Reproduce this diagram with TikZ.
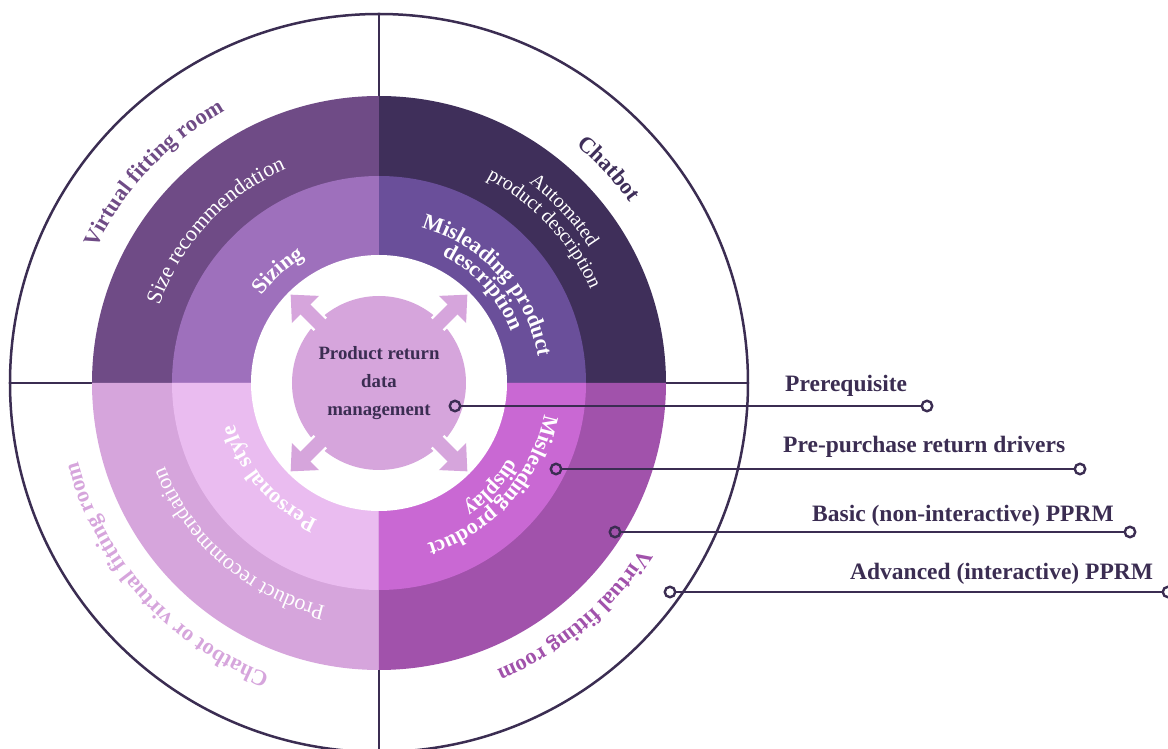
\documentclass[tikz,border=0pt]{standalone}
\usepackage{fontspec}
\setmainfont{Liberation Serif}
\usepackage{tikz}
\usetikzlibrary{arrows.meta,decorations.text,positioning}

\definecolor{prnavy}{RGB}{59,45,82}
\definecolor{prink}{RGB}{63,47,90}
\definecolor{prviolet}{RGB}{106,79,154}
\definecolor{prgrape}{RGB}{111,75,134}
\definecolor{prlav}{RGB}{158,112,188}
\definecolor{prmauve}{RGB}{214,165,220}
\definecolor{prpink}{RGB}{234,188,240}
\definecolor{prplum}{RGB}{161,82,171}
\definecolor{prorchid}{RGB}{201,104,211}

\newcommand\rimfont{\fontsize{22.5}{24}\selectfont\bfseries}
\newcommand\ringbf{\fontsize{22}{24}\selectfont\bfseries}
\newcommand\ringrm{\fontsize{22}{24}\selectfont}
\newcommand\smallrm{\fontsize{20}{22}\selectfont}

\tikzstyle{rim} = [draw=prnavy, line width=2.5pt]
\tikzstyle{cross} = [draw=prnavy, line width=2.2pt]
\tikzstyle{conn} = [draw=prnavy, line width=2.6pt]
\tikzstyle{dot} = [circle, draw=prnavy, line width=2.4pt, inner sep=0pt, minimum size=10.5pt]
\tikzstyle{lbl} = [anchor=base west, inner sep=0pt, text=prnavy, font=\fontsize{23.5}{26}\selectfont\bfseries]
\tikzstyle{spoke} = [draw=prmauve, line width=14pt, -{Triangle[width=37pt,length=21pt]}]
\tikzset{curved/.style={decorate, decoration={text along path, text align=center, text={#1}}}}

\begin{document}
\begin{tikzpicture}[x=1pt, y=1pt]
\useasboundingbox (-379,-366) rectangle (789,383);

% frame circle and the two axes
\draw[rim] (0,0) circle[radius=369pt];
\draw[cross] (-369,0) -- (369,0);
\draw[cross] (0,369) -- (0,-369);

% quadrants: outer ring, middle ring
\foreach \a/\outc/\midc in {0/prink/prviolet, 90/prgrape/prlav, 180/prmauve/prpink, 270/prplum/prorchid} {
  \fill[\outc] (0,0) -- (\a:287pt) arc[start angle=\a, end angle=\a+90, radius=287pt] -- cycle;
  \fill[\midc] (0,0) -- (\a:207pt) arc[start angle=\a, end angle=\a+90, radius=207pt] -- cycle;
}
\fill[white] (0,0) circle[radius=128pt];

% hub with its four arrows
\node[circle, fill=prmauve, minimum size=174pt, inner sep=0pt, align=center, text=prnavy,
  font=\fontsize{18.8}{28}\selectfont\bfseries] (hub) at (0,0) {Product return\\data\\management};
\foreach \a in {45,135,225,315} {
  \draw[white, line width=19pt] (\a:83pt) -- (\a:100pt);
  \draw[spoke] (\a:78pt) -- (\a:125pt);
}

% rim labels
\path[curved={|\rimfont\color{prgrape}|Virtual fitting room}] (182:313pt) arc[start angle=182, end angle=92, radius=313pt];
\path[curved={|\rimfont\color{prink}|Chatbot}] (88:309pt) arc[start angle=88, end angle=-2, radius=309pt];
\path[curved={|\rimfont\color{prmauve}|Chatbot or virtual fitting room}] (272:311pt) arc[start angle=272, end angle=172, radius=311pt];
\path[curved={|\rimfont\color{prplum}|Virtual fitting room}] (355:310pt) arc[start angle=355, end angle=265, radius=310pt];

% outer ring labels
\path[curved={|\ringrm\color{white}|Size recommendation}] (187:233pt) arc[start angle=187, end angle=87, radius=233pt];
\path[curved={|\smallrm\color{white}|Automated}] (88:250pt) arc[start angle=88, end angle=-2, radius=250pt];
\path[curved={|\smallrm\color{white}|product description}] (88:231pt) arc[start angle=88, end angle=-2, radius=231pt];
\path[curved={|\ringrm\color{white}|Product recommendation}] (274:230pt) arc[start angle=274, end angle=184, radius=230pt];

% middle ring labels
\path[curved={|\ringbf\color{white}|Sizing}] (177:146pt) arc[start angle=177, end angle=87, radius=146pt];
\path[curved={|\ringbf\color{white}|Misleading product}] (97:161pt) arc[start angle=97, end angle=-13, radius=161pt];
\path[curved={|\ringbf\color{white}|description}] (97:142pt) arc[start angle=97, end angle=-12, radius=142pt];
\path[curved={|\ringbf\color{white}|Personal style}] (266:150pt) arc[start angle=266, end angle=176, radius=150pt];
\path[curved={|\ringbf\color{white}|Misleading product}] (373:168pt) arc[start angle=373, end angle=263, radius=168pt];
\path[curved={|\ringbf\color{white}|display}] (362:150pt) arc[start angle=362, end angle=272, radius=150pt];

% legend leaders
\node[dot] (d1) at (76,-23) {};
\node[dot] (d2) at (177,-86) {};
\node[dot] (d3) at (236,-149) {};
\node[dot] (d4) at (291,-209) {};
\node[dot] (e1) at (548,-23) {};
\node[dot] (e2) at (701,-86) {};
\node[dot] (e3) at (751,-149) {};
\node[dot] (e4) at (789,-209) {};
\draw[conn] (d1) -- (e1);
\draw[conn] (d2) -- (e2);
\draw[conn] (d3) -- (e3);
\draw[conn] (d4) -- (e4);

\node[lbl] (prereq) at (406,-9) {Prerequisite};
\node[lbl] (drivers) at (404,-70) {Pre-purchase return drivers};
\node[lbl] (basic) at (433,-139) {Basic (non-interactive) PPRM};
\node[lbl] (advanced) at (471,-197) {Advanced (interactive) PPRM};
\end{tikzpicture}
\end{document}
